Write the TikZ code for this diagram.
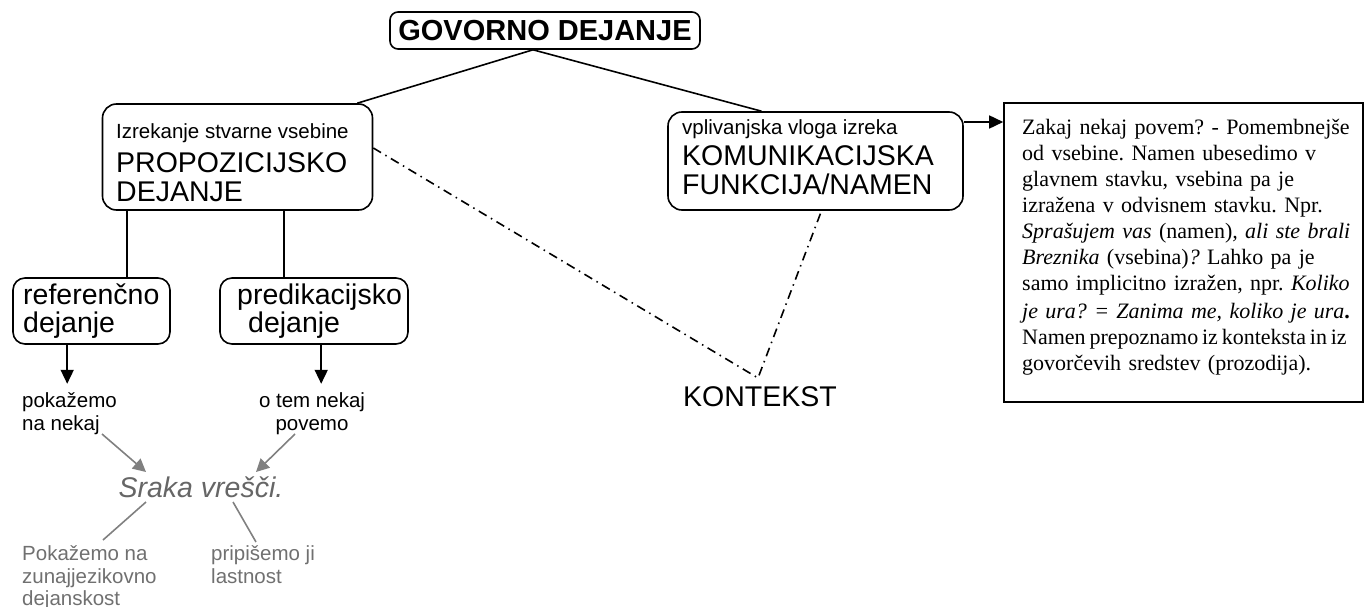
\documentclass[tikz,border=0pt]{standalone}
\usepackage{fontspec}
\setmainfont{Liberation Sans}
\newfontfamily\tnrfont{Liberation Serif}
\usetikzlibrary{arrows.meta}
\definecolor{grayline}{HTML}{808080}
\definecolor{graytext}{HTML}{666666}
\definecolor{graytextb}{HTML}{707070}
\newcommand\fsmallx{\fontsize{20.5}{24}\selectfont}
\newcommand\fbigx{\fontsize{28.5}{29}\selectfont}
\frenchspacing
\begin{document}
\begin{tikzpicture}[x=1pt,y=-1pt,
  rbox/.style={draw, line width=1.6pt, rounded corners=14pt, inner sep=0pt},
  sbox/.style={draw, line width=1.6pt, inner sep=0pt},
  txt/.style={inner sep=0pt, anchor=base west},
  conn/.style={line width=1.6pt},
  arr/.style={line width=1.6pt, -{Triangle[width=13pt,length=14pt]}},
  garr/.style={line width=1.6pt, draw=grayline, -{Triangle[width=13pt,length=13pt]}, fill=grayline},
  gline/.style={line width=1.6pt, draw=grayline},
  dd/.style={line width=1.6pt, dash pattern=on 9pt off 5pt on 1.5pt off 5pt}]
\useasboundingbox (0,0) rectangle (1365,607);

% boxes
\node[rbox, rounded corners=8pt, minimum width=310pt, minimum height=37pt,
      font=\bfseries\fontsize{29}{30}\selectfont] (title) at (545,30.5) {GOVORNO DEJANJE};
\node[rbox, minimum width=270pt, minimum height=106pt] (propoz) at (237.5,157) {};
\node[rbox, minimum width=295pt, minimum height=98pt] (komun) at (815.5,161) {};
\node[rbox, rounded corners=12pt, minimum width=157pt, minimum height=66pt] (ref) at (91.5,311) {};
\node[rbox, rounded corners=12pt, minimum width=188pt, minimum height=66pt] (pred) at (314,311) {};
\node[sbox, minimum width=359pt, minimum height=299pt] (note) at (1183.5,252.5) {};

% box texts
\node[txt, font=\fsmallx] (propozsub) at (116,139) {Izrekanje stvarne vsebine};
\node[txt, font=\fbigx] (propozA) at (116,172) {PROPOZICIJSKO};
\node[txt, font=\fbigx] (propozB) at (116,201) {DEJANJE};
\node[txt, font=\fsmallx] (komunsub) at (682,135) {vplivanjska vloga izreka};
\node[txt, font=\fbigx] (komunA) at (682,165) {KOMUNIKACIJSKA};
\node[txt, font=\fbigx] (komunB) at (682,194) {FUNKCIJA/NAMEN};
\node[txt, font=\fbigx] (refA) at (23,304) {referenčno};
\node[txt, font=\fbigx] (refB) at (23,332) {dejanje};
\node[txt, font=\fbigx] (predA) at (237,304) {predikacijsko};
\node[txt, font=\fbigx] (predB) at (248,332) {dejanje};

% free texts
\node[txt, font=\fsmallx] (pok1) at (22,407) {pokažemo};
\node[txt, font=\fsmallx] (pok2) at (22,430) {na nekaj};
\node[txt, anchor=base, font=\fsmallx] (pov1) at (312,407) {o tem nekaj};
\node[txt, anchor=base, font=\fsmallx] (pov2) at (312,430) {povemo};
\node[txt, anchor=base, font=\itshape\fbigx, text=graytext] (sraka) at (201,497) {Sraka vrešči.};
\node[txt, font=\fsmallx, text=graytextb] (bl1) at (22,560) {Pokažemo na};
\node[txt, font=\fsmallx, text=graytextb] (bl2) at (22,583) {zunajjezikovno};
\node[txt, font=\fsmallx, text=graytextb] (bl3) at (22,605) {dejanskost};
\node[txt, font=\fsmallx, text=graytextb] (br1) at (211,560) {pripišemo ji};
\node[txt, font=\fsmallx, text=graytextb] (br2) at (211,583) {lastnost};
\node[txt, font=\fbigx] (kontekst) at (683,406) {KONTEKST};

% note text
\node[txt, font=\tnrfont\fontsize{22}{26}\selectfont, text width=360pt, align=left] (notetext) at (1022,135)
{Zakaj nekaj povem? - Pomembnejše\\
od vsebine. Namen ubesedimo v\\
glavnem stavku, vsebina pa je\\
izražena v odvisnem stavku. Npr.\\
\textit{Sprašujem vas} (namen)\textit{, ali ste brali}\\
\textit{Breznika} (vsebina)\textit{?} Lahko pa je\\
samo implicitno izražen, npr. \textit{Koliko}\\[2pt]
\textit{je ura? = Zanima me, koliko je ura}\textbf{.}\\
{\spaceskip=3.8pt plus 1pt Namen prepoznamo iz konteksta in iz}\\
govorčevih sredstev (prozodija).};

% connectors
\draw[conn] ([xshift=-12pt]title.south) -- ([xshift=-16pt]propoz.north east);
\draw[conn] ([xshift=-12pt]title.south) -- ([xshift=-54pt]komun.north);
\draw[arr] ([yshift=39pt]komun.east) -- ([yshift=39pt]komun.east -| note.west);
\draw[conn] ([xshift=25pt]propoz.south west) -- ([xshift=25pt]propoz.south west |- ref.north);
\draw[conn] ([xshift=182pt]propoz.south west) -- ([xshift=182pt]propoz.south west |- pred.north);
\draw[arr] ([xshift=55pt]ref.south west) -- ([xshift=55pt,yshift=-39pt]ref.south west);
\draw[arr] ([xshift=102pt]pred.south west) -- ([xshift=102pt,yshift=-39pt]pred.south west);

\coordinate (kv) at (758,378);
\draw[dd] ([yshift=9pt]propoz.east) -- (kv) -- ([xshift=6pt]komun.south);

\coordinate (ga1) at (102,434);
\coordinate (ga2) at (146,472);
\coordinate (gb1) at (295,434);
\coordinate (gb2) at (256,472);
\draw[garr] (ga1) -- (ga2);
\draw[garr] (gb1) -- (gb2);
\coordinate (gl1) at (146,502);
\coordinate (gl2) at (103,540);
\coordinate (gr1) at (233,502);
\coordinate (gr2) at (256,542);
\draw[gline] (gl1) -- (gl2);
\draw[gline] (gr1) -- (gr2);
\end{tikzpicture}
\end{document}
